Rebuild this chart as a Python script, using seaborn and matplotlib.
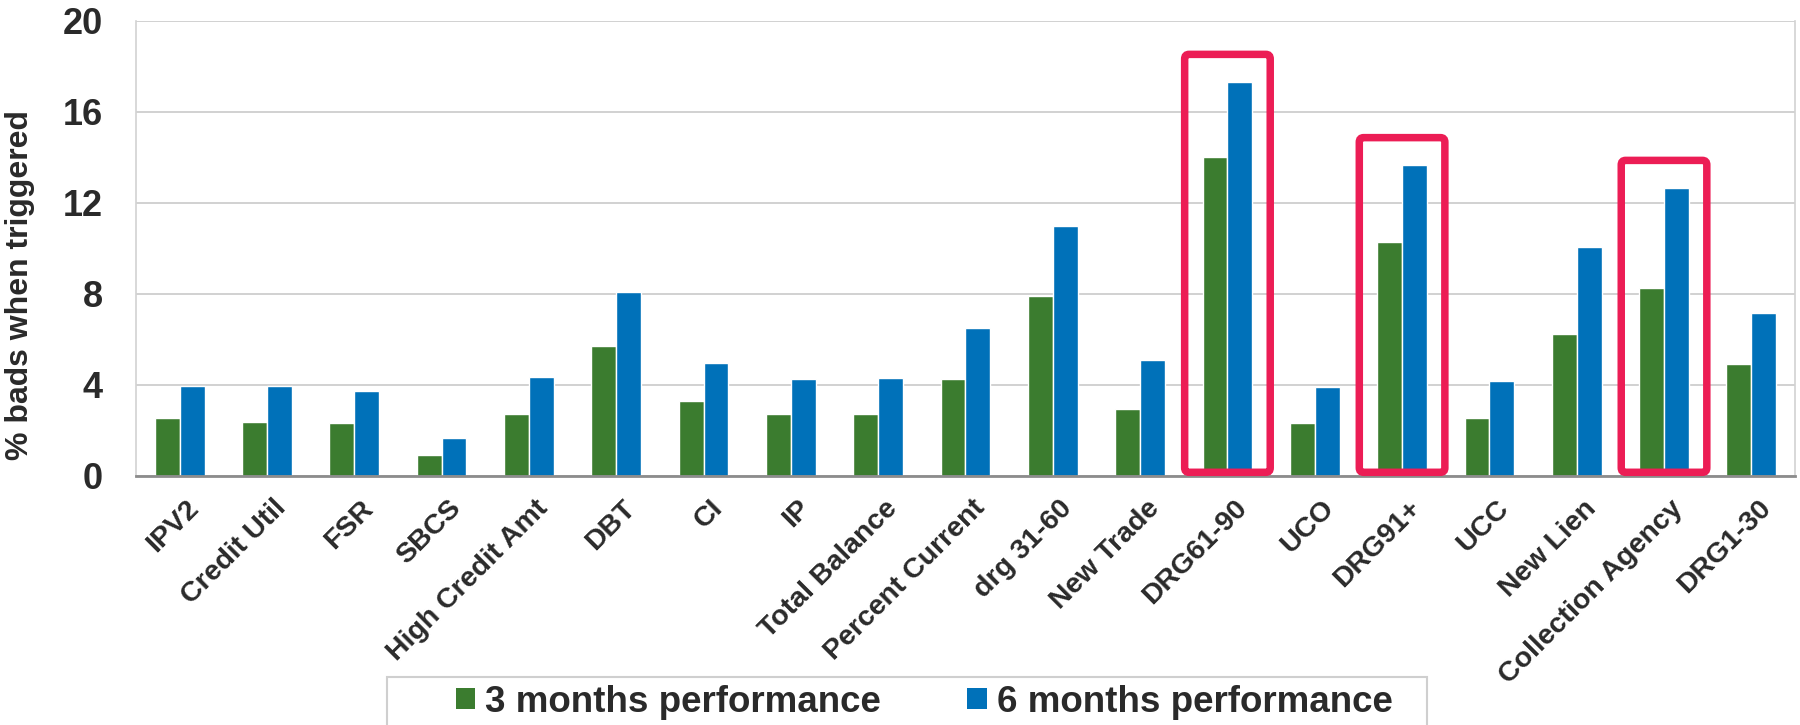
import matplotlib
matplotlib.use("Agg")
import matplotlib.pyplot as plt
from matplotlib.patches import Patch, FancyBboxPatch, Rectangle
from matplotlib.transforms import ScaledTranslation
import seaborn as sns
import pandas as pd

# Trigger features and bad rates (%) over two performance windows
features = ["IPV2", "Credit Util", "FSR", "SBCS", "High Credit Amt", "DBT", "CI",
            "IP", "Total Balance", "Percent Current", "drg 31-60", "New Trade",
            "DRG61-90", "UCO", "DRG91+", "UCC", "New Lien", "Collection Agency",
            "DRG1-30"]
perf_3m = [2.52, 2.37, 2.30, 0.92, 2.70, 5.69, 3.28, 2.70, 2.70, 4.24, 7.91, 2.93,
           14.02, 2.30, 10.27, 2.55, 6.21, 8.24, 4.91]
perf_6m = [3.96, 3.93, 3.71, 1.66, 4.32, 8.06, 4.95, 4.24, 4.28, 6.48, 10.96, 5.09,
           17.32, 3.90, 13.66, 4.15, 10.05, 12.66, 7.14]
series_names = ["3 months performance", "6 months performance"]
highlighted = ["DRG61-90", "DRG91+", "Collection Agency"]
y_ticks = [0, 4, 8, 12, 16, 20]

GREEN = "#3B7C2F"
BLUE = "#0071B9"
RED = "#EC1D55"
GRID = "#CACACA"
TEXT = "#2A2A2A"

df = pd.DataFrame({
    "feature": features * 2,
    "value": perf_3m + perf_6m,
    "period": [series_names[0]] * len(features) + [series_names[1]] * len(features),
})

sns.set_theme(style="white")
plt.rcParams["font.family"] = ["Liberation Sans", "DejaVu Sans"]
plt.rcParams["font.weight"] = "bold"

fig = plt.figure(figsize=(18, 7.25), dpi=100)
ax = fig.add_axes([136 / 1800, 1 - 475.7 / 725, (1795 - 136) / 1800, (475.7 - 20.7) / 725])

sns.barplot(data=df, x="feature", y="value", hue="period", order=features,
            hue_order=series_names, palette=[GREEN, BLUE], width=0.57,
            saturation=1, legend=False, ax=ax, zorder=3)

ax.set_xlim(-0.5, len(features) - 0.5)
ax.set_ylim(0, 20)
ax.set_yticks(y_ticks)
ax.set_yticklabels([str(t) for t in y_ticks], fontsize=26, fontweight="bold", color=TEXT)
ax.tick_params(axis="y", length=0, pad=24)
ax.yaxis.grid(True, color=GRID, linewidth=1.2, zorder=0)
ax.set_axisbelow(True)

# category boundary ticks on the x axis
ax.set_xticks([i - 0.5 for i in range(len(features) + 1)], minor=True)
ax.tick_params(axis="x", which="minor", length=6, width=1.3, color="#8C8C8C", direction="out")
ax.tick_params(axis="x", which="major", length=0, pad=14)
ax.set_xticks(range(len(features)))
ax.set_xticklabels(features, rotation=45, ha="right", va="top", rotation_mode="anchor",
                   fontsize=20.5, fontweight="bold", color=TEXT)
shift = ScaledTranslation(6 / 100, 0, fig.dpi_scale_trans)
for lbl in ax.get_xticklabels():
    lbl.set_transform(lbl.get_transform() + shift)

ax.set_xlabel("")
ax.set_ylabel("% bads when triggered", fontsize=23, fontweight="bold", color=TEXT)
ax.yaxis.set_label_coords(-0.061, 0.42)

for side in ["left", "right", "top"]:
    ax.spines[side].set_color("#D2D2D2")
    ax.spines[side].set_linewidth(1.2)
ax.spines["top"].set_visible(False)
ax.spines["bottom"].set_color("#8C8C8C")
ax.spines["bottom"].set_linewidth(2)
ax.spines["bottom"].set_zorder(5)

# highlight boxes around selected features
for name in highlighted:
    i = features.index(name)
    top = max(perf_3m[i], perf_6m[i]) + 1.2
    box = FancyBboxPatch((i - 0.49, 0.15), 0.98, top - 0.15,
                         boxstyle="round,pad=0,rounding_size=0.05",
                         fill=False, edgecolor=RED, linewidth=5.4, zorder=6,
                         mutation_aspect=4, clip_on=False)
    ax.add_patch(box)

# legend with a light frame running off the bottom edge
frame = Rectangle((387 / 1800, -0.02), (1427 - 387) / 1800, (725 - 677) / 725 + 0.02,
                  transform=fig.transFigure, fill=False, edgecolor="#CFCFCF",
                  linewidth=1.5)
fig.patches.append(frame)
handles = [Patch(facecolor=GREEN, edgecolor="none"), Patch(facecolor=BLUE, edgecolor="none")]
fig.legend(handles, series_names, loc="center left",
           bbox_to_anchor=(456 / 1800, 1 - 702 / 725), ncol=2, frameon=False,
           prop={"size": 26.5, "weight": "bold"}, labelcolor=TEXT,
           handlelength=0.52, handleheight=0.52, handletextpad=0.27,
           columnspacing=2.35, borderpad=0, borderaxespad=0)

fig.savefig("out.png", dpi=100, facecolor="white")
